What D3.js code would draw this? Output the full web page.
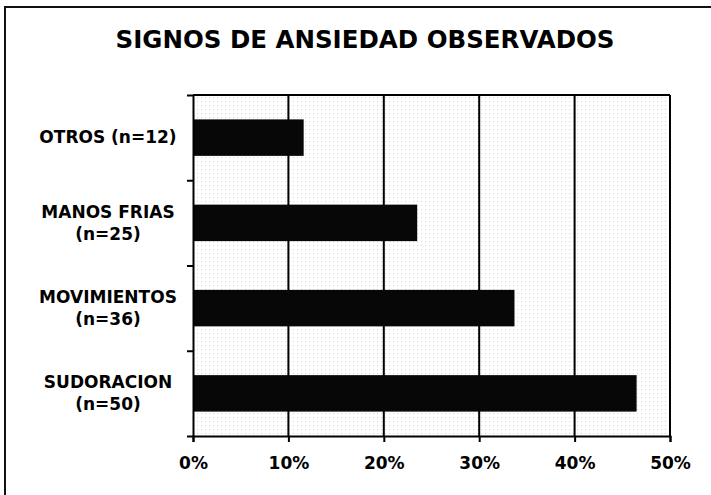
<!DOCTYPE html>
<html>
<head>
<meta charset="utf-8">
<script src="https://cdn.jsdelivr.net/npm/d3@7"></script>
<style>
  html, body { margin: 0; padding: 0; background: #fff; }
  svg { display: block; font-family: "DejaVu Sans", "Liberation Sans", Arial, sans-serif; }
</style>
</head>
<body>
<svg id="chart" width="711" height="495"></svg>
<script>
// Signs of anxiety observed: share of cases per sign
const categories = ["OTROS", "MANOS FRIAS", "MOVIMIENTOS", "SUDORACION"];
const counts = [12, 25, 36, 50];
const shares = [0.116, 0.235, 0.337, 0.465];
const xTicks = [0, 0.1, 0.2, 0.3, 0.4, 0.5];
const title = "SIGNOS DE ANSIEDAD OBSERVADOS";

const svg = d3.select("#chart");
const plot = { left: 193, right: 670, top: 95, bottom: 436 };
const FONT = "DejaVu Sans, Liberation Sans, Arial, sans-serif";

// Outer frame
svg.append("rect")
  .attr("x", 5).attr("y", 7)
  .attr("width", 712).attr("height", 500)
  .attr("fill", "none").attr("stroke", "#111").attr("stroke-width", 2);

// Title
svg.append("text")
  .attr("x", 365).attr("y", 48)
  .attr("text-anchor", "middle")
  .attr("font-size", 24.5).attr("font-weight", "bold")
  .attr("fill", "#000")
  .text(title);

const x = d3.scaleLinear().domain([0, 0.5]).range([plot.left, plot.right]);
const y = d3.scaleBand().domain(categories)
  .range([plot.top, plot.bottom])
  .paddingInner(0.572).paddingOuter(0.286);

// Light dotted plot background
const defs = svg.append("defs");
const pat = defs.append("pattern")
  .attr("id", "dots").attr("patternUnits", "userSpaceOnUse")
  .attr("width", 4).attr("height", 4);
pat.append("rect").attr("width", 4).attr("height", 4).attr("fill", "#fff");
pat.append("rect").attr("x", 1).attr("y", 1).attr("width", 1).attr("height", 1)
  .attr("fill", "#d6d6d6");

svg.append("rect")
  .attr("x", plot.left).attr("y", plot.top)
  .attr("width", plot.right - plot.left).attr("height", plot.bottom - plot.top)
  .attr("fill", "url(#dots)");

// Vertical gridlines
svg.append("g").selectAll("line")
  .data(xTicks.filter(d => d > 0))
  .join("line")
  .attr("x1", d => x(d)).attr("x2", d => x(d))
  .attr("y1", plot.top).attr("y2", plot.bottom)
  .attr("stroke", "#000").attr("stroke-width", 2);

// Top border of the plot
svg.append("line")
  .attr("x1", plot.left).attr("x2", plot.right)
  .attr("y1", plot.top).attr("y2", plot.top)
  .attr("stroke", "#000").attr("stroke-width", 2);

// Bars
svg.append("g").selectAll("rect")
  .data(categories)
  .join("rect")
  .attr("x", x(0))
  .attr("y", d => y(d))
  .attr("width", (d, i) => x(shares[i]) - x(0))
  .attr("height", y.bandwidth())
  .attr("fill", "#070707");

// X axis
const xAxis = svg.append("g")
  .attr("transform", `translate(0,${plot.bottom})`)
  .call(d3.axisBottom(x).tickValues(xTicks).tickFormat(d3.format(".0%"))
    .tickSize(6).tickPadding(15));
xAxis.select(".domain").attr("stroke", "#000").attr("stroke-width", 2);
xAxis.selectAll(".tick line").attr("stroke", "#000").attr("stroke-width", 2);
xAxis.selectAll("text")
  .attr("font-size", 17).attr("font-weight", "bold").attr("fill", "#000")
  .attr("font-family", FONT);

// Y axis: ticks sit on the boundaries between categories
const yEdge = d3.scaleLinear().domain([0, categories.length]).range([plot.top, plot.bottom]);
const yAxis = svg.append("g")
  .attr("transform", `translate(${plot.left},0)`)
  .call(d3.axisLeft(yEdge).tickValues(d3.range(categories.length + 1))
    .tickFormat("").tickSize(6).tickSizeOuter(0));
yAxis.select(".domain").attr("stroke", "#000").attr("stroke-width", 2);
yAxis.selectAll(".tick line").attr("stroke", "#000").attr("stroke-width", 2);

// Category labels
const labelX = 108;
const labels = svg.append("g").selectAll("text")
  .data(categories)
  .join("text")
  .attr("text-anchor", "middle")
  .attr("font-size", 17).attr("font-weight", "bold").attr("fill", "#000")
  .attr("x", labelX);

labels.each(function (d, i) {
  const t = d3.select(this);
  const cy = y(d) + y.bandwidth() / 2;
  if (i === 0) {
    t.attr("y", cy + 5).text(`${d} (n=${counts[i]})`);
  } else {
    t.append("tspan").attr("x", labelX).attr("y", cy - 5).text(d);
    t.append("tspan").attr("x", labelX).attr("y", cy + 17).text(`(n=${counts[i]})`);
  }
});
</script>
</body>
</html>
